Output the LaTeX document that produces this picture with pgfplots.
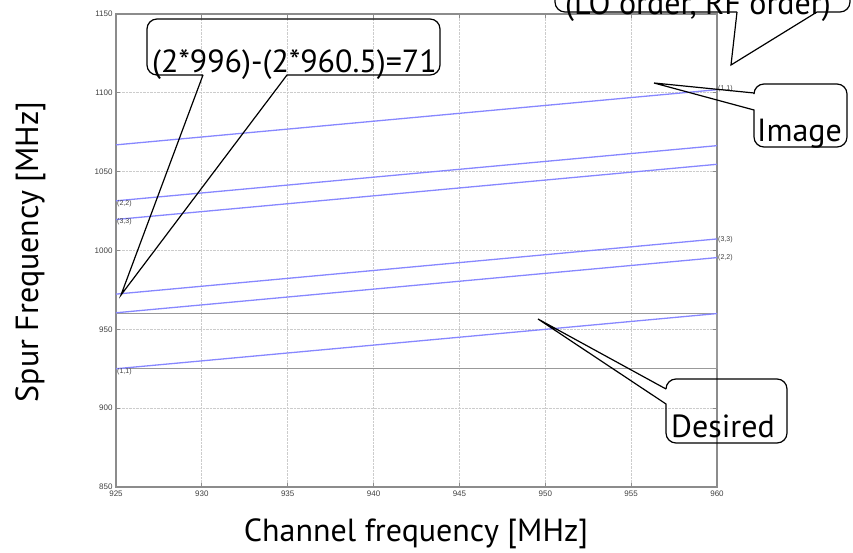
\documentclass[border=0pt]{standalone}
\usepackage{pgfplots}
\pgfplotsset{compat=1.18}
\usepackage{fontspec}
\setmainfont{PT Sans}
\newfontfamily\tickfont{Liberation Sans}
\definecolor{spur}{RGB}{135,135,255}
\newcommand{\labfont}{\tickfont\fontsize{7}{8}\selectfont}
\newcommand{\bigfont}{\fontsize{32}{37}\selectfont}
\begin{document}
\begin{tikzpicture}[x=1pt,y=1pt]
\useasboundingbox (0,0) rectangle (853,552);
\begin{axis}[at={(116pt,65pt)}, anchor=south west, scale only axis,
  width=601pt, height=473pt,
  xmin=925, xmax=960, ymin=850, ymax=1150,
  xtick={925,930,...,960}, ytick={850,900,...,1150},
  grid=major, grid style={densely dotted, black!20, line width=0.8pt},
  axis line style={black!45, line width=1.2pt},
  tick style={black!45, line width=0.8pt},
  tick align=inside, major tick length=4pt,
  tick label style={font=\tickfont\fontsize{8}{9}\selectfont, text=black!75},
  /pgf/number format/assume math mode=true,
  /pgf/number format/1000 sep={},
  clip=false]
% desired band
\addplot[black!40, line width=1.3pt, mark=none] coordinates {(925,960) (960,960) (960,925) (925,925)};
% spur lines
\addplot[spur, line width=1.3pt, mark=none] coordinates {(925,925) (960,960)};
\addplot[spur, line width=1.3pt, mark=none] coordinates {(925,1067) (960,1102)};
\addplot[spur, line width=1.3pt, mark=none] coordinates {(925,1031.5) (960,1066.5)};
\addplot[spur, line width=1.3pt, mark=none] coordinates {(925,1019.67) (960,1054.67)};
\addplot[spur, line width=1.3pt, mark=none] coordinates {(925,972.33) (960,1007.33)};
\addplot[spur, line width=1.3pt, mark=none] coordinates {(925,960.5) (960,995.5)};
% line labels
\node[anchor=west, font=\labfont, text=black!75, inner sep=1pt] at (axis cs:925,923) {(1,1)};
\node[anchor=west, font=\labfont, text=black!75, inner sep=1pt] at (axis cs:925,1030) {(2,2)};
\node[anchor=west, font=\labfont, text=black!75, inner sep=1pt] at (axis cs:925,1018.5) {(3,3)};
\node[anchor=west, font=\labfont, text=black!75, inner sep=1pt] at (axis cs:960,1007) {(3,3)};
\node[anchor=west, font=\labfont, text=black!75, inner sep=1pt] at (axis cs:960,995.5) {(2,2)};
\node[anchor=west, font=\labfont, text=black!75, inner sep=1pt] at (axis cs:960,1102.5) {(1,1)};
\end{axis}
% axis labels
\node[anchor=base, font=\bigfont] at (416,11) {Channel frequency [MHz]};
\node[anchor=base, rotate=90, font=\bigfont] at (38,300) {Spur Frequency [MHz]};
% callout A
\draw[line width=1.2pt] (203,477) -- (121,257) -- (287,477) [rounded corners=10pt] -- (440,477) -- (440,533) -- (147,533) -- (147,477) -- (203,477);
\node[anchor=base west, font=\bigfont, inner sep=0pt] at (152,479) {(2*996)-(2*960.5)=71};
% callout B
\draw[line width=1.2pt] (737,540) -- (731,487) -- (817,540) [rounded corners=10pt] -- (850,540) -- (850,580) -- (555,580) -- (555,540) -- (737,540);
\node[anchor=base west, font=\bigfont, inner sep=0pt] at (565,537) {(LO order, RF order)};
% callout C
\draw[line width=1.2pt] (754,459) -- (654,469) -- (754,442) [rounded corners=10pt] -- (754,405) -- (847,405) -- (847,468) -- (754,468) -- (754,459);
\node[anchor=base west, font=\bigfont, inner sep=0pt] at (757,410) {Image};
% callout D
\draw[line width=1.2pt] (666,163) -- (538,233) -- (666,148) [rounded corners=10pt] -- (666,109) -- (787,109) -- (787,173) -- (666,173) -- (666,163);
\node[anchor=base west, font=\bigfont, inner sep=0pt] at (671,115) {Desired};
\end{tikzpicture}
\end{document}
